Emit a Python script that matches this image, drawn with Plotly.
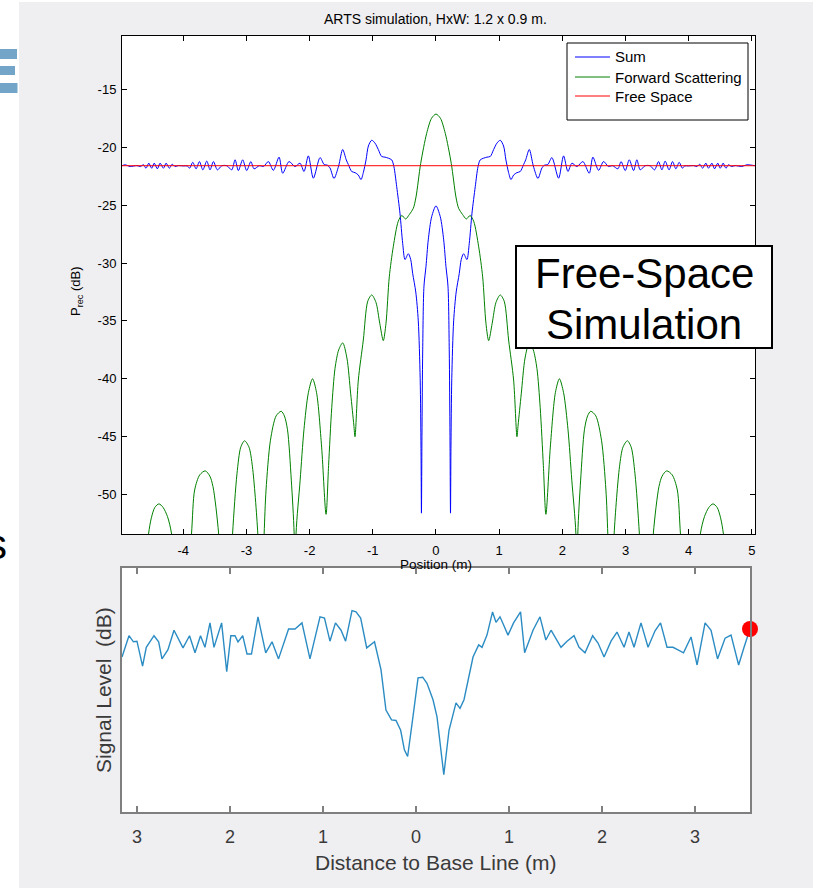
import plotly.graph_objects as go

W, H = 813, 888

# ---------------- top chart data (Position in m, Prec in dB) ----------------
sum_pos = [-4.97, -4.92, -4.84, -4.736, -4.68, -4.63, -4.59, -4.546, -4.50, -4.46, -4.41, -4.367, -4.314, -4.272,
           -4.22, -4.177, -4.13, -4.077, -3.998, -3.935, -3.90, -3.85, -3.797, -3.745, -3.69, -3.628, -3.576,
           -3.523, -3.46, -3.39, -3.31, -3.233, -3.18, -3.128, -3.06, -2.996, -2.93, -2.88, -2.796, -2.73, -2.653,
           -2.574, -2.484, -2.426, -2.326, -2.231, -2.152, -2.089, -2.02, -1.941, -1.835, -1.77, -1.72, -1.677,
           -1.614, -1.54, -1.477, -1.42, -1.387, -1.334, -1.28, -1.23, -1.187, -1.15, -1.107, -1.07, -1.017,
           -0.965, -0.913, -0.86, -0.807, -0.754, -0.70, -0.665, -0.622, -0.57, -0.527, -0.49, -0.438, -0.40,
           -0.369, -0.32, -0.28, -0.25, -0.237, -0.23, -0.222, -0.21, -0.19, -0.158, -0.122, -0.068, 0.0,
           0.068, 0.122, 0.158, 0.19, 0.21, 0.222, 0.23, 0.237, 0.25, 0.28, 0.32, 0.369, 0.40, 0.438, 0.49,
           0.527, 0.57, 0.622, 0.665, 0.70, 0.754, 0.807, 0.86, 0.913, 0.965, 1.017, 1.07, 1.107, 1.15, 1.187,
           1.23, 1.28, 1.334, 1.387, 1.42, 1.477, 1.54, 1.614, 1.677, 1.72, 1.77, 1.835, 1.941, 2.02, 2.089,
           2.152, 2.231, 2.326, 2.426, 2.484, 2.574, 2.653, 2.73, 2.796, 2.88, 2.93, 2.996, 3.06, 3.128, 3.18,
           3.233, 3.31, 3.39, 3.46, 3.523, 3.576, 3.628, 3.69, 3.745, 3.797, 3.85, 3.90, 3.935, 3.998, 4.077,
           4.13, 4.177, 4.22, 4.272, 4.314, 4.367, 4.41, 4.46, 4.50, 4.546, 4.59, 4.63, 4.68, 4.736, 4.84, 4.92,
           5.05]
sum_db = [-21.6, -21.52, -21.67, -21.59, -21.67, -21.52, -21.82, -21.38, -21.82, -21.38, -21.87, -21.38, -21.82, -21.38,
          -21.82, -21.47, -21.67, -21.59, -21.62, -21.62, -21.82, -21.31, -21.87, -21.24, -21.96, -21.2, -21.96,
          -21.24, -21.96, -21.6, -21.6, -21.96, -21.09, -22.02, -21.09, -22.02, -21.24, -21.87, -21.6, -21.67, -21.24,
          -22.0, -20.86, -22.25, -21.24, -21.67, -21.38, -22.1, -20.75, -22.68, -20.9, -21.5, -21.55, -21.8,
          -22.7, -21.6, -20.2, -21.1, -21.5, -22.1, -22.2, -22.4, -22.8, -22.2, -21.1, -19.9, -19.4,
          -19.65, -20.2, -20.8, -20.86, -20.95, -21.1, -21.7, -23.4, -25.7, -28.3, -29.7, -29.2, -29.7,
          -30.9, -32.5, -35.0, -40.0, -46.0, -51.6, -45.0, -37.5, -32.0, -30.3, -28.0, -26.0, -25.07,
          -26.0, -28.0, -30.3, -32.0, -37.5, -45.0, -51.6, -46.0, -40.0, -35.0, -32.5, -30.9, -29.7, -29.2, -29.7,
          -28.3, -25.7, -23.4, -21.7, -21.1, -20.95, -20.86, -20.8, -20.2, -19.65, -19.4, -19.9, -21.1, -22.2, -22.8,
          -22.4, -22.2, -22.1, -21.5, -21.1, -20.2, -21.6, -22.7, -21.8, -21.55, -21.5, -20.9, -22.68, -20.75, -22.1,
          -21.38, -21.67, -21.24, -22.25, -20.86, -22.0, -21.24, -21.67, -21.6, -21.87, -21.24, -22.02, -21.09, -22.02, -21.09,
          -21.96, -21.6, -21.6, -21.96, -21.24, -21.96, -21.2, -21.96, -21.24, -21.87, -21.31, -21.82, -21.62, -21.62, -21.59,
          -21.67, -21.47, -21.82, -21.38, -21.82, -21.38, -21.87, -21.38, -21.82, -21.38, -21.82, -21.52, -21.67, -21.59, -21.67, -21.52,
          -21.6]

fwd_pos = [-4.97, -4.62, -4.55, -4.505, -4.45, -4.385, -4.32, -4.25, -4.185, -4.03,
           -3.87, -3.82, -3.74, -3.652, -3.58, -3.53, -3.44, -3.33,
           -3.22, -3.15, -3.09, -3.03, -2.96, -2.905, -2.82, -2.77,
           -2.72, -2.69, -2.62, -2.53, -2.45, -2.40, -2.35, -2.29, -2.245, -2.23,
           -2.215, -2.15, -2.09, -2.02, -1.954, -1.89, -1.81, -1.74,
           -1.70, -1.65, -1.598, -1.54, -1.476, -1.41, -1.35, -1.30, -1.282,
           -1.229, -1.15, -1.08, -1.017, -0.95, -0.89, -0.834,
           -0.791, -0.739, -0.676, -0.597, -0.54, -0.48, -0.42, -0.36, -0.316, -0.242, -0.147, -0.07, 0.0,
           0.07, 0.147, 0.242, 0.316, 0.36, 0.42, 0.48, 0.54, 0.597, 0.676, 0.739, 0.791,
           0.834, 0.89, 0.95, 1.017, 1.08, 1.15, 1.229,
           1.282, 1.30, 1.35, 1.41, 1.476, 1.54, 1.598, 1.65, 1.70,
           1.74, 1.81, 1.89, 1.954, 2.02, 2.09, 2.15, 2.215,
           2.23, 2.245, 2.29, 2.35, 2.40, 2.45, 2.53, 2.62, 2.69, 2.72,
           2.77, 2.82, 2.905, 2.96, 3.03, 3.09, 3.15, 3.22,
           3.33, 3.44, 3.53, 3.58, 3.652, 3.74, 3.82, 3.87,
           4.03, 4.185, 4.25, 4.32, 4.385, 4.45, 4.505, 4.55, 4.62, 5.05]
fwd_db = [-60.0, -58.0, -53.4, -52.0, -51.1, -50.8, -51.1, -51.9, -53.4, -65.0,
          -53.4, -49.6, -48.3, -47.95, -48.4, -49.3, -53.4, -65.0,
          -53.4, -48.2, -45.9, -45.35, -45.9, -47.6, -53.4, -62.0,
          -53.4, -49.6, -45.3, -43.2, -42.8, -43.2, -44.4, -48.75, -53.4, -62.0,
          -53.4, -48.75, -44.4, -41.2, -40.0, -41.2, -45.9, -51.7,
          -47.5, -42.5, -39.1, -37.5, -36.9, -38.2, -41.3, -44.0, -45.0,
          -40.1, -36.65, -33.3, -32.76, -33.4, -35.2, -36.7,
          -35.2, -31.2, -28.6, -26.4, -25.9, -26.2, -25.8, -25.3, -24.3, -21.4, -18.8, -17.5, -17.14,
          -17.5, -18.8, -21.4, -24.3, -25.3, -25.8, -26.2, -25.9, -26.4, -28.6, -31.2, -35.2,
          -36.7, -35.2, -33.4, -32.76, -33.3, -36.65, -40.1,
          -45.0, -44.0, -41.3, -38.2, -36.9, -37.5, -39.1, -42.5, -47.5,
          -51.7, -45.9, -41.2, -40.0, -41.2, -44.4, -48.75, -53.4,
          -62.0, -53.4, -48.75, -44.4, -43.2, -42.8, -43.2, -45.3, -49.6, -53.4,
          -62.0, -53.4, -47.6, -45.9, -45.35, -45.9, -48.2, -53.4,
          -65.0, -53.4, -49.3, -48.4, -47.95, -48.3, -49.6, -53.4,
          -65.0, -53.4, -51.9, -51.1, -50.8, -51.1, -52.0, -53.4, -58.0, -60.0]

free_pos = [-4.97, 5.05]
free_db = [-21.6, -21.6]

top_xticks = [-4, -3, -2, -1, 0, 1, 2, 3, 4, 5]
top_xlabels = ["-4", "-3", "-2", "-1", "0", "1", "2", "3", "4", "5"]
top_yticks = [-15, -20, -25, -30, -35, -40, -45, -50]
top_ylabels = ["-15", "-20", "-25", "-30", "-35", "-40", "-45", "-50"]

legend_names = ["Sum", "Forward Scattering", "Free Space"]
legend_colors = ["#0000ff", "#008000", "#ff0000"]

# ---------------- bottom chart data (distance in m, signal level in dB) ----------------
meas_dist = [-3.161, -3.086, -3.038, -3.0, -2.940, -2.900, -2.817, -2.767, -2.731, -2.667, -2.602, -2.505, -2.435,
             -2.376, -2.317, -2.269, -2.215, -2.172, -2.090, -2.035, -1.991, -1.946, -1.914, -1.863, -1.817, -1.769,
             -1.699, -1.616, -1.548, -1.478, -1.370, -1.301, -1.226, -1.140, -1.032, -0.984, -0.925, -0.866, -0.806,
             -0.757, -0.688, -0.645, -0.595, -0.530, -0.446, -0.376, -0.323, -0.263, -0.215, -0.165, -0.125, -0.090,
             -0.037, 0.022, 0.072, 0.118, 0.183, 0.226, 0.299, 0.355, 0.430, 0.473, 0.516, 0.613, 0.674, 0.710,
             0.763, 0.823, 0.860, 0.903, 0.941, 0.989, 1.049, 1.124, 1.168, 1.258, 1.333, 1.396, 1.452, 1.516,
             1.559, 1.624, 1.699, 1.753, 1.817, 1.899, 1.957, 2.022, 2.097, 2.161, 2.237, 2.290, 2.344, 2.419,
             2.495, 2.570, 2.629, 2.699, 2.763, 2.812, 2.876, 2.957, 3.022, 3.108, 3.172, 3.242, 3.323, 3.387,
             3.469, 3.527, 3.591]
meas_db = [-34.6, -31.1, -32.1, -32.0, -36.1, -33.0, -31.1, -32.1, -34.9, -33.4, -30.2, -33.1, -31.1,
           -33.9, -31.1, -33.0, -29.0, -33.0, -29.0, -37.0, -31.1, -31.1, -32.1, -31.1, -34.1, -34.1,
           -28.0, -33.9, -32.1, -34.9, -30.0, -30.0, -29.0, -34.9, -28.0, -28.2, -32.0, -29.0, -30.2,
           -32.0, -27.0, -27.2, -28.2, -33.1, -32.1, -36.7, -43.3, -44.9, -45.0, -46.6, -49.8, -50.9,
           -44.9, -38.0, -37.9, -38.9, -41.6, -44.4, -53.9, -46.6, -42.1, -43.0, -41.6, -34.6, -32.6, -33.0,
           -31.0, -27.2, -28.9, -28.0, -29.3, -31.0, -29.0, -27.2, -33.9, -30.2, -28.0, -31.8, -30.2, -32.0,
           -33.0, -32.0, -31.1, -33.0, -33.9, -31.1, -32.3, -34.6, -32.0, -30.5, -33.0, -30.5, -33.0, -29.0,
           -33.0, -30.3, -29.0, -33.0, -33.0, -33.4, -33.9, -31.3, -35.9, -29.0, -30.2, -34.9, -31.5, -31.0,
           -35.9, -33.0, -30.0]
bottom_xticks = [-3, -2, -1, 0, 1, 2, 3]
bottom_xlabels = ["3", "2", "1", "0", "1", "2", "3"]

FONT = "Liberation Sans, Arial, sans-serif"


def fx(p):
    return p / W


def fy(p):
    return 1 - p / H


fig = go.Figure()
fig.add_trace(go.Scatter(x=sum_pos, y=sum_db, mode="lines", name=legend_names[0],
                         line=dict(color=legend_colors[0], width=1, shape="spline", smoothing=0.8),
                         xaxis="x", yaxis="y"))
fig.add_trace(go.Scatter(x=fwd_pos, y=fwd_db, mode="lines", name=legend_names[1],
                         line=dict(color=legend_colors[1], width=1, shape="spline", smoothing=0.8),
                         xaxis="x", yaxis="y"))
fig.add_trace(go.Scatter(x=free_pos, y=free_db, mode="lines", name=legend_names[2],
                         line=dict(color=legend_colors[2], width=1), xaxis="x", yaxis="y"))
fig.add_trace(go.Scatter(x=meas_dist, y=meas_db, mode="lines", name="Measured",
                         line=dict(color="#2b8cc4", width=1.4), xaxis="x2", yaxis="y2"))
fig.add_trace(go.Scatter(x=meas_dist[-1:], y=meas_db[-1:], mode="markers", name="Current",
                         marker=dict(color="#ff0000", size=16), cliponaxis=False,
                         xaxis="x2", yaxis="y2"))

axis_top = dict(showgrid=False, zeroline=False, showline=True, linecolor="black", linewidth=1,
                mirror="ticks", ticks="inside", ticklen=5, tickwidth=1, tickcolor="black",
                tickfont=dict(family=FONT, size=13, color="black"))

fig.update_layout(
    width=W, height=H, margin=dict(l=0, r=0, t=0, b=0),
    paper_bgcolor="#efeef1", plot_bgcolor="white", showlegend=False,
    xaxis=dict(axis_top, domain=[fx(122), fx(755)], range=[-4.97, 5.05], tickvals=top_xticks,
               ticktext=top_xlabels, anchor="y", ticklabelstandoff=4),
    yaxis=dict(axis_top, domain=[fy(534), fy(36)], range=[-53.4, -10.4], tickvals=top_yticks,
               ticktext=top_ylabels, anchor="x", ticklabelstandoff=2),
    xaxis2=dict(showgrid=False, zeroline=False, showline=True, linecolor="#7f7f7f", linewidth=1.5,
                mirror="ticks", ticks="inside", ticklen=6, tickwidth=1.5, tickcolor="#7f7f7f",
                domain=[fx(122), fx(750)], range=[-3.161, 3.591], tickvals=bottom_xticks,
                ticktext=bottom_xlabels, anchor="y2", ticklabelstandoff=8,
                tickfont=dict(family=FONT, size=18, color="#3a3a3a")),
    yaxis2=dict(showgrid=False, zeroline=False, showline=True, linecolor="#7f7f7f", linewidth=1.5,
                mirror=True, ticks="", showticklabels=False,
                domain=[fy(812), fy(568)], range=[-60, -20], anchor="x2"),
)

shapes = [
    dict(type="rect", xref="paper", yref="paper", x0=0, x1=fx(19), y0=0, y1=1,
         fillcolor="white", line=dict(width=0), layer="below"),
    dict(type="rect", xref="paper", yref="paper", x0=0, x1=1, y0=fy(2), y1=1,
         fillcolor="white", line=dict(width=0), layer="below"),
    dict(type="rect", xref="paper", yref="paper", x0=0, x1=fx(17), y0=fy(59), y1=fy(49),
         fillcolor="#73a5c9", line=dict(width=0), layer="below"),
    dict(type="rect", xref="paper", yref="paper", x0=0, x1=fx(15), y0=fy(75), y1=fy(66),
         fillcolor="#73a5c9", line=dict(width=0), layer="below"),
    dict(type="rect", xref="paper", yref="paper", x0=0, x1=fx(17.5), y0=fy(93), y1=fy(83),
         fillcolor="#73a5c9", line=dict(width=0), layer="below"),
    # "Free-Space Simulation" label box
    dict(type="rect", xref="paper", yref="paper", x0=fx(516), x1=fx(772), y0=fy(348), y1=fy(246),
         fillcolor="white", line=dict(color="black", width=2), layer="above"),
    # legend box
    dict(type="rect", xref="paper", yref="paper", x0=fx(567), x1=fx(748), y0=fy(120), y1=fy(43),
         fillcolor="white", line=dict(color="black", width=1), layer="above"),
]
legend_rows = [57, 77, 96]
for row, col in zip(legend_rows, legend_colors):
    shapes.append(dict(type="line", xref="paper", yref="paper", x0=fx(575), x1=fx(610),
                       y0=fy(row), y1=fy(row), line=dict(color=col, width=1), layer="above"))
fig.update_layout(shapes=shapes)

ann = [
    dict(text="ARTS simulation, HxW: 1.2 x 0.9 m.", x=fx(436), y=fy(19), size=14, color="black"),
    dict(text="Position (m)", x=fx(436), y=fy(564), size=13.5, color="black"),
    dict(text="P<sub>rec</sub> (dB)", x=fx(76), y=fy(292), size=13, color="black", angle=-90),
    dict(text="Free-Space", x=fx(644), y=fy(273), size=42, color="black"),
    dict(text="Simulation", x=fx(644), y=fy(324), size=42, color="black"),
    dict(text="Signal Level  (dB)", x=fx(103), y=fy(690), size=21, color="#3a3a3a", angle=-90),
    dict(text="Distance to Base Line (m)", x=fx(436), y=fy(862), size=21, color="#3a3a3a"),
]
annotations = []
for a in ann:
    annotations.append(dict(text=a["text"], x=a["x"], y=a["y"], xref="paper", yref="paper",
                            xanchor="center", yanchor="middle", showarrow=False,
                            textangle=a.get("angle", 0),
                            font=dict(family=FONT, size=a["size"], color=a["color"])))
for row, name in zip(legend_rows, legend_names):
    annotations.append(dict(text=name, x=fx(613), y=fy(row), xref="paper", yref="paper",
                            xanchor="left", yanchor="middle", showarrow=False,
                            font=dict(family=FONT, size=15, color="black")))
annotations.append(dict(text="s", x=fx(9), y=fy(544), xref="paper", yref="paper",
                        xanchor="right", yanchor="middle", showarrow=False,
                        font=dict(family=FONT, size=42, color="black")))
fig.update_layout(annotations=annotations)

fig.write_html("out.html")
